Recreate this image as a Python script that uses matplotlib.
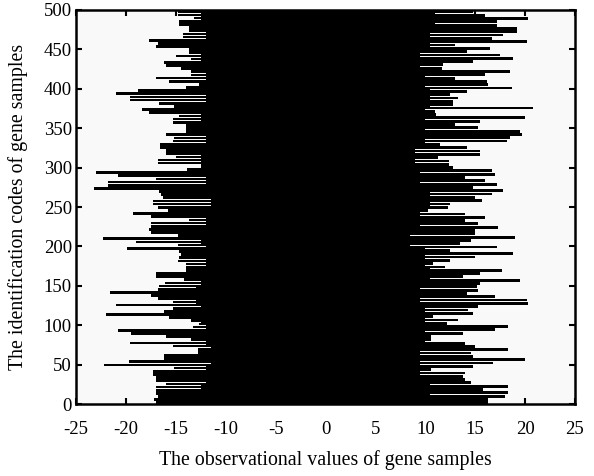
import numpy as np
import matplotlib
matplotlib.use("Agg")
import matplotlib.pyplot as plt

plt.rcParams['font.family'] = ['Liberation Serif', 'DejaVu Serif']
plt.rcParams['axes.unicode_minus'] = False

# smallest value of each group of samples, read from the top (id 500) down to id 0
low_top = [-14.8, -14.8, -13.2, -14.7, -14.7, -13.7, -13.7, -14.3, -14.3, -17.7,
           -16.8, -17.0, -13.7, -13.7, -15.0, -13.5, -16.2, -16.0, -14.5, -13.5,
           -13.5, -17.0, -15.7, -12.7, -14.0, -18.8, -21.0, -19.6, -19.6, -16.7,
           -15.2, -18.4, -17.7, -14.7, -15.3, -15.3, -14.0, -14.0, -14.0, -16.0,
           -15.2, -15.3, -16.6, -16.6, -16.0, -16.0, -15.0, -16.8, -16.8, -12.2,
           -13.9, -23.0, -20.8, -17.0, -21.8, -21.8, -23.2, -16.7, -16.5, -16.3,
           -17.3, -17.3, -16.8]
low_bottom = [-15.8, -19.3, -17.5, -13.7, -17.5, -17.5, -17.7, -17.5, -14.8, -22.3,
              -19.0, -14.8, -19.9, -14.7, -14.5, -14.7, -14.8, -14.0, -14.0, -14.0,
              -17.0, -17.0, -14.2, -16.1, -16.7, -16.8, -21.6, -17.5, -16.8, -15.3,
              -21.0, -15.3, -16.2, -22.0, -15.7, -13.5, -12.7, -13.3, -20.8, -19.5,
              -16.0, -13.5, -19.6, -15.3, -12.8, -12.8, -16.2, -16.2, -19.7, -22.2,
              -15.2, -17.3, -17.3, -17.0, -17.0, -16.0, -17.0, -17.0, -17.0, -16.8,
              -17.2, -17.0]

# largest value of each group, same order
high_top = [14.8, 16.0, 20.3, 17.2, 17.2, 19.2, 19.2, 17.8, 16.7, 20.2,
            13.0, 16.5, 14.2, 17.5, 18.8, 14.8, 11.8, 11.7, 18.5, 16.0,
            13.0, 16.2, 16.3, 18.7, 14.2, 12.5, 13.3, 12.8, 12.8, 20.8,
            11.0, 11.1, 20.0, 15.5, 13.0, 15.3, 19.5, 19.7, 18.5, 18.2,
            11.5, 14.2, 15.5, 15.5, 11.3, 12.4, 12.4, 12.8, 16.7, 17.0,
            14.0, 16.0, 17.2, 14.8, 17.8, 16.7, 15.0, 15.7, 12.5]
high_bottom = [12.3, 10.3, 14.0, 16.0, 14.0, 15.3, 17.3, 15.0, 15.0, 19.0,
               14.6, 13.5, 17.2, 12.5, 18.8, 15.0, 12.5, 10.8, 12.0, 17.7,
               15.5, 13.8, 19.5, 15.5, 15.2, 15.3, 14.2, 17.0, 20.2, 20.3,
               15.3, 14.3, 14.8, 10.8, 13.3, 12.2, 18.3, 17.0, 13.8, 10.6,
               10.6, 14.0, 15.0, 18.3, 14.6, 14.8, 20.0, 16.8, 14.8, 10.6,
               14.0, 13.8, 14.0, 14.6, 18.3, 15.8, 18.3, 18.0, 16.3, 16.3]

# solid core edges per block of 25 samples, from id 0 up
core_left = [-12.5, -12, -11.5, -12, -12.5, -13, -12.5, -12, -12.5, -12,
             -11.5, -12, -12.5, -12, -12.5, -12, -12, -12.5, -12, -12.5]
core_right = [10.5, 9.5, 9.5, 10, 10, 9.5, 10.5, 10, 8.5, 9.5,
              10.5, 9.5, 9, 10, 10, 10.5, 10, 9.5, 10.5, 11]

low_vals = np.array(low_top + low_bottom)[::-1]
high_vals = np.array(high_top + high_bottom)[::-1]
core_left = np.array(core_left)
core_right = np.array(core_right)

fig = plt.figure(figsize=(5.94, 4.76), dpi=100)
ax = fig.add_axes([0.128, 0.151, 0.84, 0.828])
ax.set_facecolor('#f9f9f9')

# core
h_c = 500.0 / len(core_left)
ax.barh(np.arange(len(core_left)) * h_c, core_right - core_left, left=core_left,
        height=h_c, align='edge', color='black', linewidth=0)

# spikes
n_lo = len(low_vals)
h_lo = 500.0 / n_lo
ax.barh(np.arange(n_lo) * h_lo, -low_vals, left=low_vals, height=h_lo * 0.85,
        align='edge', color='black', linewidth=0)
n_hi = len(high_vals)
h_hi = 500.0 / n_hi
ax.barh(np.arange(n_hi) * h_hi, high_vals, left=0, height=h_hi * 0.85,
        align='edge', color='black', linewidth=0)

ax.set_xlim(-25, 25)
ax.set_ylim(0, 500)
ax.set_xticks(np.arange(-25, 26, 5))
ax.set_yticks(np.arange(0, 501, 50))
ax.tick_params(direction='in', top=True, right=True, length=4, width=1.5,
               labelsize=13.5)
ax.tick_params(axis='x', pad=12)
ax.tick_params(axis='y', pad=3)
for s in ax.spines.values():
    s.set_linewidth(1.8)

ax.set_xlabel('The observational values of gene samples', fontsize=14.3, labelpad=9)
ax.set_ylabel('The identification codes of gene samples', fontsize=14.3, labelpad=11)

fig.savefig('out.png', dpi=100)
